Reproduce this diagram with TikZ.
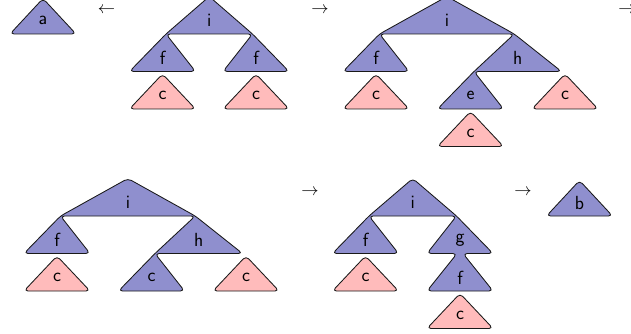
\documentclass[tikz,border=0pt]{standalone}
\definecolor{treeblue}{RGB}{143,143,206}
\definecolor{leafpink}{RGB}{255,187,187}
\tikzset{
  treeshape/.style={fill=treeblue, draw=black!90, line width=0.85pt, rounded corners=4pt, line join=round},
  pinkshape/.style={fill=leafpink, draw=black!90, line width=0.85pt, rounded corners=4pt, line join=round},
  lbl/.style={font=\fontsize{19}{21}\sffamily, inner sep=0pt, anchor=center},
  arr/.style={font=\fontsize{18.5}{20}\selectfont, inner sep=0pt, anchor=base}
}
% #1 style, #2 x centre, #3 base y, #4 height
\newcommand\TriShape[4]{\path[#1] (#2-33,#3) -- (#2,#3-#4) -- (#2+33,#3) -- cycle;}
\begin{document}
\begin{tikzpicture}[x=1pt,y=-1pt]
\useasboundingbox (0,0) rectangle (631,334);

% ---------- row 1 ----------
% a
\TriShape{treeshape}{43}{34}{35.5}
\node[lbl] (la) at (43,20.7) {a};
\node[arr] (ar1) at (106.5,14) {$\leftarrow$};

% tree 1
\path[treeshape] (209.25,-3.5) -- (166,34) -- (129.5,71.5) -- (195.5,71.5) -- (166,34)
  -- (252.5,34) -- (223,71.5) -- (289,71.5) -- (252.5,34) -- cycle;
\TriShape{pinkshape}{162.5}{109}{35}
\TriShape{pinkshape}{256}{109}{35}
\node[lbl] (t1i) at (209.25,20.7) {i};
\node[lbl] (t1f1) at (162.5,58.2) {f};
\node[lbl] (t1f2) at (256,58.2) {f};
\node[lbl] (t1c1) at (162.5,95.7) {c};
\node[lbl] (t1c2) at (256,95.7) {c};

\node[arr] (ar2) at (320,14) {$\rightarrow$};

% tree 2
\path[treeshape] (446.9,-3.5) -- (379.5,34) -- (343,71.5) -- (409,71.5) -- (379.5,34)
  -- (514.25,34) -- (474,71.5) -- (437.5,109) -- (503.5,109) -- (474,71.5)
  -- (561.5,71.5) -- (514.25,34) -- cycle;
\TriShape{pinkshape}{376}{109}{35}
\TriShape{pinkshape}{565}{109}{35}
\TriShape{pinkshape}{470.5}{146.5}{35}
\node[lbl] (t2i) at (446.9,20.7) {i};
\node[lbl] (t2f) at (376,58.2) {f};
\node[lbl] (t2h) at (517.75,58.2) {h};
\node[lbl] (t2e) at (470.5,95.7) {e};
\node[lbl] (t2c1) at (376,95.7) {c};
\node[lbl] (t2c2) at (565,95.7) {c};
\node[lbl] (t2c3) at (470.5,133.2) {c};

\node[arr] (ar3) at (627,14) {$\rightarrow$};

% ---------- row 2 ----------
% tree 3
\path[treeshape] (127.9,178.5) -- (60.5,216) -- (24,253.5) -- (90,253.5) -- (60.5,216)
  -- (195.25,216) -- (155,253.5) -- (118.5,291) -- (184.5,291) -- (155,253.5)
  -- (242.5,253.5) -- (195.25,216) -- cycle;
\TriShape{pinkshape}{57}{291}{35}
\TriShape{pinkshape}{246}{291}{35}
\node[lbl] (t3i) at (127.9,202.7) {i};
\node[lbl] (t3f) at (57,240.2) {f};
\node[lbl] (t3h) at (198.75,240.2) {h};
\node[lbl] (t3c1) at (151.5,277.7) {c};
\node[lbl] (t3c2) at (57,277.7) {c};
\node[lbl] (t3c3) at (246,277.7) {c};

\node[arr] (ar4) at (310,195.7) {$\rightarrow$};

% tree 4
\path[treeshape] (412.75,178.5) -- (369,216) -- (332.5,253.5) -- (398.5,253.5) -- (369,216)
  -- (456.5,216) -- (427,253.5) -- (457,253.5) -- (427,291) -- (493,291) -- (463,253.5)
  -- (493,253.5) -- (456.5,216) -- cycle;
\TriShape{pinkshape}{365.5}{291}{35}
\TriShape{pinkshape}{460}{328.5}{35}
\node[lbl] (t4i) at (412.75,202.7) {i};
\node[lbl] (t4f1) at (365.5,240.2) {f};
\node[lbl] (t4g) at (460,240.2) {g};
\node[lbl] (t4f2) at (460,277.7) {f};
\node[lbl] (t4c1) at (365.5,277.7) {c};
\node[lbl] (t4c2) at (460,315.2) {c};

\node[arr] (ar5) at (523,195.7) {$\rightarrow$};

% b
\TriShape{treeshape}{579.5}{216}{35.5}
\node[lbl] (lb) at (579.5,202.7) {b};
\end{tikzpicture}
\end{document}
